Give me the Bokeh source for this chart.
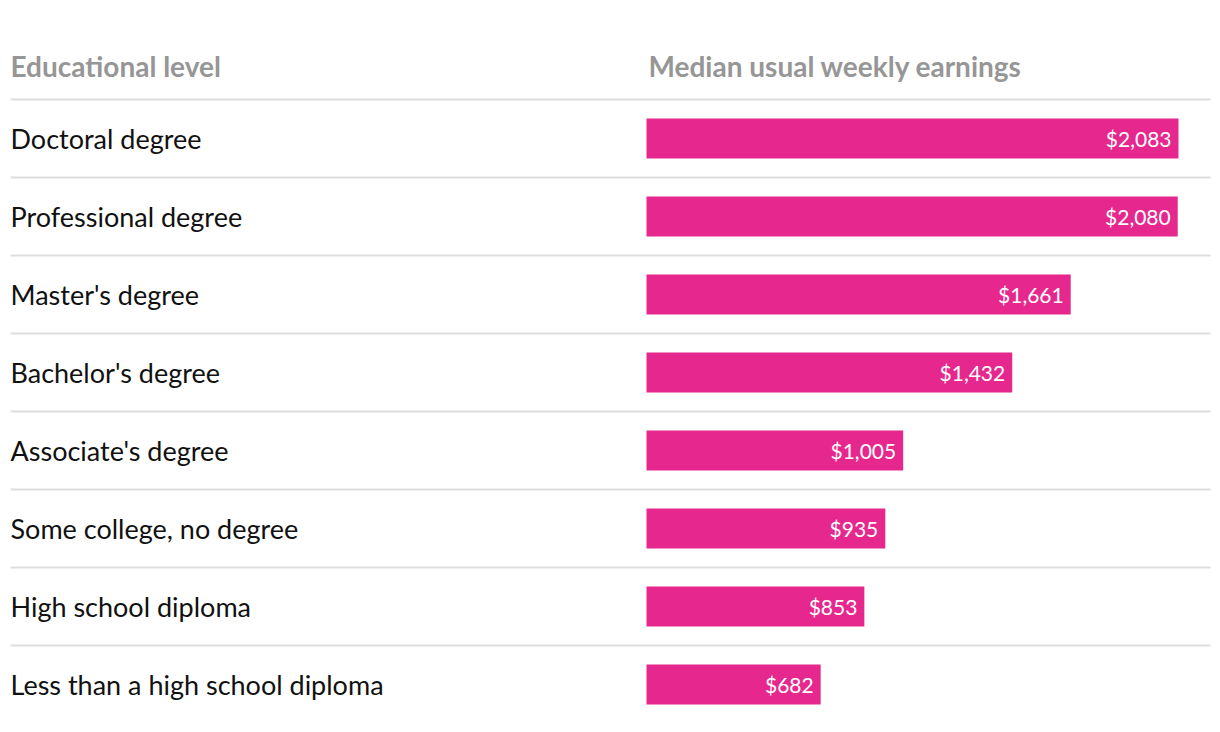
from bokeh.plotting import figure
from bokeh.models import Range1d, ColumnDataSource
from bokeh.core.properties import value
from bokeh.embed import file_html
from bokeh.resources import INLINE

categories = ["Doctoral degree", "Professional degree", "Master's degree", "Bachelor's degree",
              "Associate's degree", "Some college, no degree", "High school diploma",
              "Less than a high school diploma"]
earnings = [2083, 2080, 1661, 1432, 1005, 935, 853, 682]
labels = ["$2,083", "$2,080", "$1,661", "$1,432", "$1,005", "$935", "$853", "$682"]
header_left = "Educational level"
header_right = "Median usual weekly earnings"

W, H = 1216, 728
px_per_unit = 532 / 2083.0   # horizontal scale
x0_px = 646                  # frame x of value zero
row_px = 78.0

xr = Range1d(-x0_px / px_per_unit, (W - x0_px) / px_per_unit)
yr = Range1d(H / row_px, 0)

p = figure(width=W, height=H, x_range=xr, y_range=yr, output_backend="svg",
           toolbar_location=None, min_border=0, outline_line_color=None,
           background_fill_color="white", border_fill_color="white")
p.axis.visible = False
p.grid.visible = False

n = len(categories)
ys = [138 / row_px + i for i in range(n)]
src = ColumnDataSource(dict(cat=categories, val=earnings, lab=labels, y=ys,
                            lab_x=[v - 7 / px_per_unit for v in earnings]))

# divider lines
div_y = [99 / row_px + k for k in range(n)]
lx0 = (10 - x0_px) / px_per_unit
lx1 = (1210 - x0_px) / px_per_unit
p.segment(x0=[lx0] * n, x1=[lx1] * n, y0=div_y, y1=div_y, line_color="#dddddd", line_width=2)

p.hbar(y="y", left=0, right="val", height=40 / row_px, source=src,
       fill_color="#e6288e", line_color=None)

p.text(x=lx0, y="y", text="cat", source=src, text_font=value("Lato"),
       text_font_size="27px", text_color="#111111", text_baseline="middle", text_align="left")
p.text(x="lab_x", y="y", text="lab", source=src, text_font=value("Lato"),
       text_font_size="21px", text_color="white", text_baseline="middle", text_align="right")

hy = 65 / row_px
p.text(x=[lx0], y=[hy], text=[header_left], text_font=value("Lato"), text_font_style="bold",
       text_font_size="28px", text_color="#969696", text_baseline="middle")
p.text(x=[2 / px_per_unit], y=[hy], text=[header_right], text_font=value("Lato"), text_font_style="bold",
       text_font_size="28px", text_color="#969696", text_baseline="middle")

open("out.html", "w").write(file_html(p, INLINE))
